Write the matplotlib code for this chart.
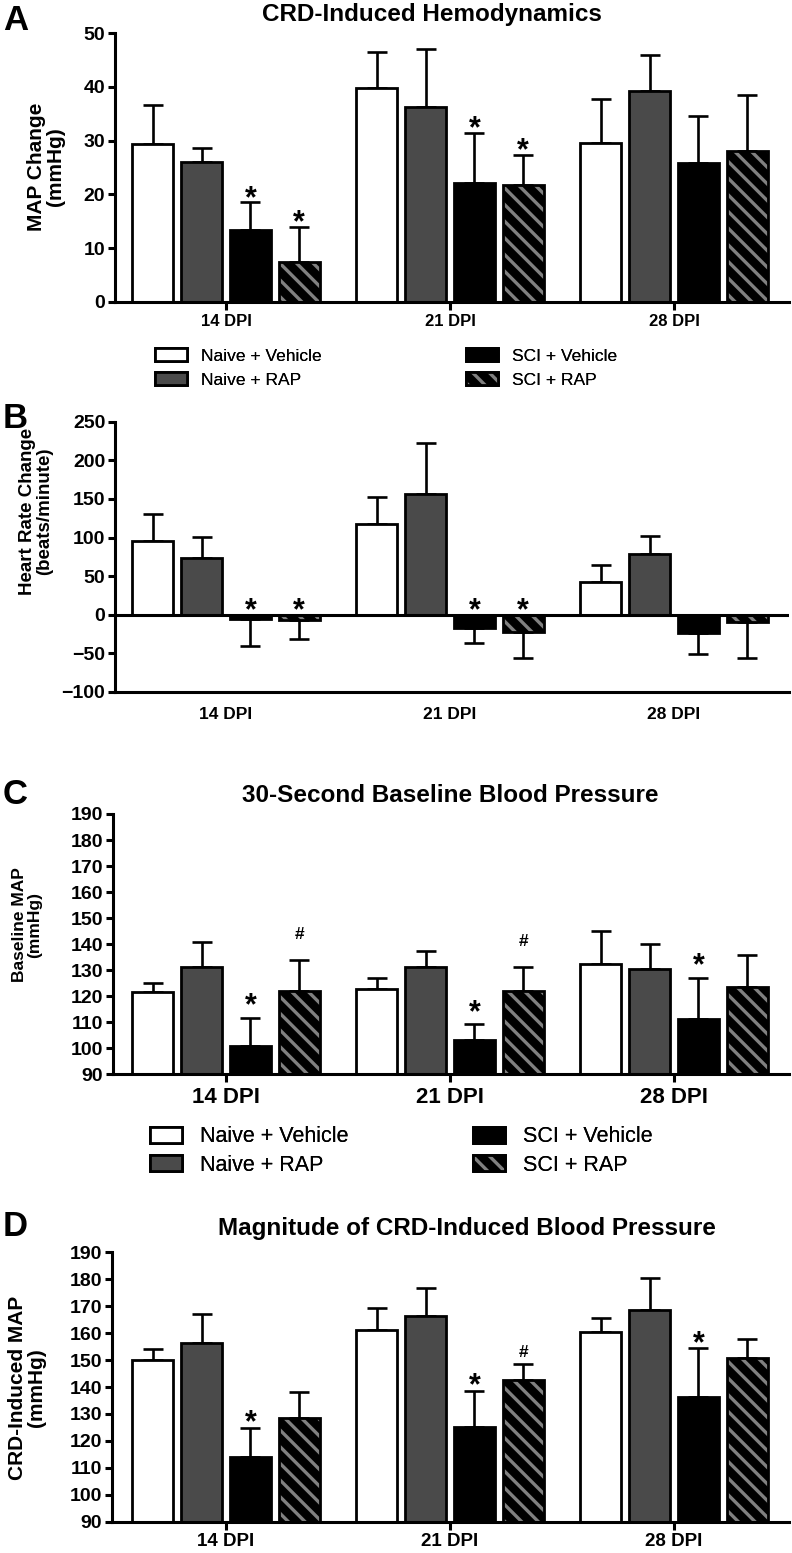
import matplotlib
matplotlib.use("Agg")
import matplotlib.pyplot as plt
from matplotlib.patches import Patch

plt.rcParams["font.family"] = ["Liberation Sans", "DejaVu Sans"]
plt.rcParams["hatch.linewidth"] = 2.4

# ---- data ----
groups = ["14 DPI", "21 DPI", "28 DPI"]
treatments = ["Naive + Vehicle", "Naive + RAP", "SCI + Vehicle", "SCI + RAP"]

# panel A: CRD-induced MAP change (mmHg); rows follow treatments
a_mean = [[29.3, 39.8, 29.5], [26.1, 36.3, 39.3], [13.3, 22.2, 25.8], [7.4, 21.7, 28.1]]
a_err = [[7.4, 6.6, 8.2], [2.6, 10.7, 6.6], [5.2, 9.3, 8.7], [6.6, 5.7, 10.4]]
a_marks = [["", "", ""], ["", "", ""], ["*", "*", ""], ["*", "*", ""]]

# panel B: heart rate change (beats/minute)
b_mean = [[96, 117, 42.7], [74, 156, 79], [-5.6, -17, -23.7], [-6.5, -22.4, -10]]
b_err = [[34.7, 36, 21.3], [26.5, 67, 23], [35.4, 19.6, 26.8], [25, 33.2, 45.6]]
b_marks = [["", "", ""], ["", "", ""], ["*", "*", ""], ["*", "*", ""]]

# panel C: 30-second baseline MAP (mmHg)
c_mean = [[121.6, 122.7, 132.4], [131.2, 131.1, 130.3], [100.9, 103.2, 111.2], [122.1, 122.0, 123.4]]
c_err = [[3.6, 4.3, 12.5], [9.5, 6.4, 9.8], [10.8, 6.1, 15.9], [11.8, 9.3, 12.3]]
c_marks = [["", "", ""], ["", "", ""], ["*", "*", "*"], ["#", "#", ""]]

# panel D: CRD-induced MAP (mmHg)
d_mean = [[150.0, 161.2, 160.6], [156.2, 166.4, 168.6], [113.9, 125.3, 136.4], [128.5, 142.6, 150.7]]
d_err = [[4.1, 8.0, 4.9], [10.9, 10.5, 12.0], [11.0, 13.4, 18.0], [9.8, 6.0, 7.1]]
d_marks = [["", "", ""], ["", "", ""], ["*", "*", "*"], ["", "#", ""]]

# ---- style ----
W, H = 792, 1553
GRAY = "#4a4a4a"
STRIPE = "#808080"
LW = 2.0
offsets = [-0.327, -0.109, 0.109, 0.327]
bar_w = 0.183
centre_px, step_px = 226, 224


def rect(l, t, r, b):
    return [l / W, 1 - b / H, (r - l) / W, (b - t) / H]


def draw_panel(ax, means, errs, marks, ylim, yticks, left_px, tick_len=6, gaps=(12, 12)):
    xs = range(len(groups))
    for i, (m, e) in enumerate(zip(means, errs)):
        px = [x + offsets[i] for x in xs]
        lo = [err if v < 0 else 0 for v, err in zip(m, e)]
        hi = [0 if v < 0 else err for v, err in zip(m, e)]
        ax.errorbar(px, m, yerr=[lo, hi], fmt="none", ecolor="black",
                    elinewidth=1.9, capsize=7, capthick=1.9, zorder=1)
        if i == 3:
            ax.bar(px, m, bar_w, color="black", edgecolor=STRIPE, hatch="\\\\",
                   linewidth=0, zorder=2)
            ax.bar(px, m, bar_w, fill=False, edgecolor="black", linewidth=LW, zorder=3)
        else:
            face = ["white", GRAY, "black"][i]
            ax.bar(px, m, bar_w, color=face, edgecolor="black", linewidth=LW, zorder=2)
        for x, v, err, mk in zip(px, m, e, marks[i]):
            if not mk:
                continue
            top = v + err if v >= 0 else 0
            if mk == "*":
                size, gap, lift = 22, gaps[0], 0.55
            else:
                size, gap, lift = 12.5, gaps[1], 0.36
            off = (gap - lift * size * 100 / 72) * 72 / 100
            ax.annotate(mk, (x, top), xytext=(0, off), textcoords="offset points",
                        ha="center", va="baseline", fontsize=size, fontweight="bold")

    ax.set_xlim((left_px - centre_px) / step_px, (789 - centre_px) / step_px)
    ax.set_ylim(*ylim)
    ax.set_yticks(yticks)
    for s in ["top", "right"]:
        ax.spines[s].set_visible(False)
    for s in ["left", "bottom"]:
        ax.spines[s].set_linewidth(2.2)
    ax.tick_params(axis="y", length=5, width=2.2, labelsize=14, pad=2)
    ax.tick_params(axis="x", length=tick_len, width=2.2, direction="out")
    for lab in ax.get_yticklabels():
        lab.set_fontweight("bold")


def add_legend(fig, rows_y, col_x, fs, hl, spacing):
    h_nv = Patch(facecolor="white", edgecolor="black", linewidth=2)
    h_nr = Patch(facecolor=GRAY, edgecolor="black", linewidth=2)
    h_sv = Patch(facecolor="black", edgecolor="black", linewidth=2)
    h_sr = (Patch(facecolor="black", edgecolor=STRIPE, hatch="\\\\", linewidth=0),
            Patch(facecolor="none", edgecolor="black", linewidth=2))
    for hs, labs, x in [([h_nv, h_nr], treatments[:2], col_x[0]),
                        ([h_sv, h_sr], treatments[2:], col_x[1])]:
        leg = fig.legend(hs, labs, loc="center left", bbox_to_anchor=(x / W, 1 - rows_y / H),
                         frameon=False, borderpad=0, borderaxespad=0, fontsize=fs,
                         handlelength=hl, handleheight=0.75, handletextpad=0.8,
                         labelspacing=spacing)
        fig.add_artist(leg)


fig = plt.figure(figsize=(W / 100, H / 100), dpi=100)

# A
ax_a = fig.add_axes(rect(115, 33, 789, 302))
draw_panel(ax_a, a_mean, a_err, a_marks, (0, 50), range(0, 51, 10), 115, tick_len=6)
ax_a.set_xticks(range(3), groups, fontsize=12, fontweight="bold")
ax_a.tick_params(axis="x", pad=3)
add_legend(fig, 368, (155, 466), 12.5, 1.85, 0.5)

# B
ax_b = fig.add_axes(rect(115, 421.7, 789, 692))
draw_panel(ax_b, b_mean, b_err, b_marks, (-100, 250), range(-100, 251, 50), 115, tick_len=0)
ax_b.axhline(0, color="black", linewidth=2.2, zorder=4)
ax_b.set_xticks(range(3), groups, fontsize=12.5, fontweight="bold")
ax_b.tick_params(axis="x", pad=11)

# C
ax_c = fig.add_axes(rect(113, 814, 789, 1074.3))
draw_panel(ax_c, c_mean, c_err, c_marks, (90, 190), range(90, 191, 10), 113,
           tick_len=6, gaps=(20, 27))
ax_c.set_xticks(range(3), groups, fontsize=16, fontweight="bold")
ax_c.tick_params(axis="x", pad=3)
add_legend(fig, 1151, (150, 473), 15.5, 1.5, 0.35)

# D
ax_d = fig.add_axes(rect(112, 1252.3, 789, 1521.7))
draw_panel(ax_d, d_mean, d_err, d_marks, (90, 190), range(90, 191, 10), 112,
           tick_len=6, gaps=(13, 13))
ax_d.set_xticks(range(3), groups, fontsize=13.5, fontweight="bold")
ax_d.tick_params(axis="x", pad=2)

# titles, panel letters, y labels
for x, y, txt in [(432, 14, "CRD-Induced Hemodynamics"),
                  (450, 795, "30-Second Baseline Blood Pressure"),
                  (467, 1228, "Magnitude of CRD-Induced Blood Pressure")]:
    fig.text(x / W, 1 - y / H, txt, ha="center", va="center", fontsize=17.5, fontweight="bold")

for y, letter in [(20, "A"), (418, "B"), (795, "C"), (1227, "D")]:
    fig.text(3 / W, 1 - y / H, letter, ha="left", va="center", fontsize=25, fontweight="bold")

for x, y, txt, fs in [(46, 167, "MAP Change\n(mmHg)", 15),
                      (36, 511, "Heart Rate Change\n(beats/minute)", 13.5),
                      (27, 925, "Baseline MAP\n(mmHg)", 12.5),
                      (27, 1388, "CRD-Induced MAP\n(mmHg)", 15)]:
    fig.text(x / W, 1 - y / H, txt, rotation=90, ha="center", va="center",
             fontsize=fs, fontweight="bold", linespacing=1.0, multialignment="center")

fig.savefig("out.png", dpi=100)
